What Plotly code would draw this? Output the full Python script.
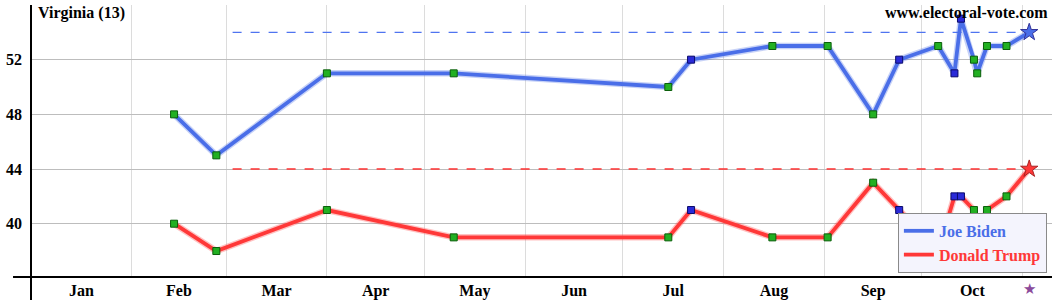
import plotly.graph_objects as go

# ---- data ----
poll_dates = ["2020-02-14", "2020-02-27", "2020-04-01", "2020-05-10", "2020-07-15",
              "2020-07-22", "2020-08-16", "2020-09-02", "2020-09-16", "2020-09-24",
              "2020-10-06", "2020-10-11", "2020-10-13", "2020-10-17", "2020-10-18",
              "2020-10-21", "2020-10-27"]
biden = [48, 45, 51, 51, 50, 52, 53, 53, 48, 52, 53, 51, 55, 52, 51, 53, 53]
trump = [40, 38, 41, 39, 39, 41, 39, 39, 43, 41, 38, 42, 42, 41, 39, 41, 42]
poll_kind = ["g", "g", "g", "g", "g", "b", "g", "g", "g", "b",
             "g", "b", "b", "g", "g", "g", "g"]
election_day = "2020-11-03"
dash_start = "2020-03-03"
biden_final = 54
trump_final = 44
y_ticks = [40, 44, 48, 52]
state_title = "Virginia (13)"
site = "www.electoral-vote.com"

SERIF = "Liberation Serif"
BLUE = "#4a6ee8"
RED = "#ff3838"
fill_map = {"g": "#22b022", "b": "#2a2ad8"}
edge_map = {"g": "#0b5e0b", "b": "#0a0a6a"}

fig = go.Figure()

# dashed projection lines
fig.add_trace(go.Scatter(x=[dash_start, election_day], y=[biden_final, biden_final],
                         mode="lines", line=dict(color="#4f74f0", width=1.3, dash="dash"),
                         showlegend=False, hoverinfo="skip"))
fig.add_trace(go.Scatter(x=[dash_start, election_day], y=[trump_final, trump_final],
                         mode="lines", line=dict(color="#ff3030", width=1.3, dash="dash"),
                         showlegend=False, hoverinfo="skip"))

for name, vals, final, col in [("Joe Biden", biden, biden_final, BLUE),
                               ("Donald Trump", trump, trump_final, RED)]:
    xs = poll_dates + [election_day]
    ys = vals + [final]
    # soft halo
    fig.add_trace(go.Scatter(x=xs, y=ys, mode="lines",
                             line=dict(color=col, width=6.5), opacity=0.3,
                             showlegend=False, hoverinfo="skip"))
    fig.add_trace(go.Scatter(x=xs, y=ys, mode="lines",
                             line=dict(color=col, width=3.8),
                             name=f"<span style='color:{col}'><b>{name}</b></span>"))
    fig.add_trace(go.Scatter(x=poll_dates, y=vals, mode="markers",
                             marker=dict(symbol="square", size=7,
                                         color=[fill_map[k] for k in poll_kind],
                                         line=dict(color=[edge_map[k] for k in poll_kind], width=1)),
                             showlegend=False))
    fig.add_trace(go.Scatter(x=[election_day], y=[final], mode="markers",
                             marker=dict(symbol="star", size=13, color=col,
                                         line=dict(color="#333399" if col == BLUE else "#aa2222", width=1)),
                             showlegend=False))

fig.update_layout(
    width=1060, height=300,
    margin=dict(l=31, r=8, t=5, b=23),
    paper_bgcolor="white", plot_bgcolor="white",
    font=dict(family=SERIF, color="black"),
    legend=dict(x=0.995, y=0.015, xanchor="right", yanchor="bottom",
                bgcolor="#f4f4fd", bordercolor="#8a8a8a", borderwidth=1,
                font=dict(family=SERIF, size=16), tracegroupgap=0,
                itemwidth=30),
    xaxis=dict(type="date", range=["2020-01-01", "2020-11-10"], automargin=False,
               dtick="M1", tick0="2020-01-01", ticklabelmode="period",
               tickformat="%b", showgrid=True, gridcolor="#dcdcdc", gridwidth=1,
               showline=False, zeroline=False, ticks="", ticklabelstandoff=2,
               tickfont=dict(family=SERIF, size=16, color="black", weight="bold")),
    yaxis=dict(range=[36.1, 56.0], tickvals=y_ticks, showgrid=True, automargin=False,
               gridcolor="#bdbdbd", gridwidth=1, showline=False, zeroline=False,
               ticks="", ticklabelstandoff=8,
               tickfont=dict(family=SERIF, size=16, color="black", weight="bold")),
    shapes=[
        dict(type="line", xref="paper", yref="paper", x0=-0.0176, x1=1.0, y0=0, y1=0,
             line=dict(color="black", width=2)),
        dict(type="line", xref="paper", yref="paper", x0=0, x1=0, y0=-0.085, y1=1.0,
             line=dict(color="black", width=2)),
    ],
    annotations=[
        dict(text=f"<b>{state_title}</b>", xref="paper", yref="paper", x=0.005, y=1.012,
             xanchor="left", yanchor="top", showarrow=False,
             font=dict(family=SERIF, size=16, color="black")),
        dict(text=f"<b>{site}</b>", xref="paper", yref="paper", x=0.998, y=1.012,
             xanchor="right", yanchor="top", showarrow=False,
             font=dict(family=SERIF, size=16, color="black")),
        dict(text="★", xref="x", yref="paper", x=election_day, y=-0.044,
             xanchor="center", yanchor="middle", showarrow=False,
             font=dict(family="DejaVu Sans", size=15, color="#8b4a9b")),
    ],
)

fig.write_html("out.html")
